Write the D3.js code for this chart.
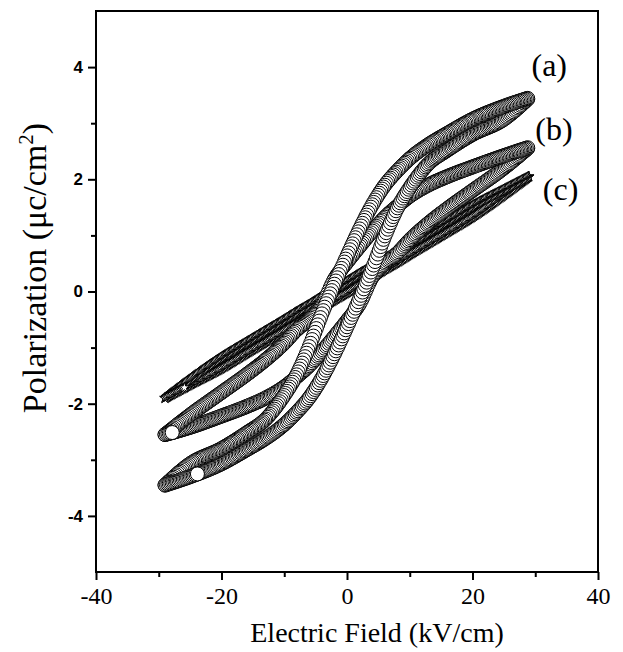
<!DOCTYPE html>
<html>
<head>
<meta charset="utf-8">
<title>P-E loops</title>
<script src="https://d3js.org/d3.v7.min.js"></script>
<style>
  body { margin: 0; background: #fff; }
</style>
</head>
<body>
<svg width="623" height="652" id="mainsvg"></svg>
<script>
// field grid (kV/cm), shared by every branch
const field = [-29, -25, -20, -16, -13, -10, -8, -6, -4, -2, 0, 2, 4, 6, 8, 10, 13, 16, 20, 25, 29];

// polarization (uC/cm2), upper = field going down, lower = field going up
const upperA = [-3.45, -3.07, -2.8, -2.52, -2.28, -1.85, -1.48, -0.98, -0.4, 0.13, 0.63, 1.11, 1.54, 1.89, 2.15, 2.37, 2.62, 2.82, 3.07, 3.3, 3.45];
const lowerA = [-3.45, -3.3, -3.07, -2.82, -2.62, -2.37, -2.15, -1.89, -1.54, -1.11, -0.63, -0.13, 0.4, 0.98, 1.48, 1.85, 2.28, 2.52, 2.8, 3.07, 3.45];
const upperB = [-2.55, -2.2, -1.8, -1.48, -1.22, -0.92, -0.68, -0.5, -0.25, 0.22, 0.52, 0.8, 1.07, 1.32, 1.52, 1.7, 1.9, 2.05, 2.22, 2.42, 2.57];
const lowerB = [-2.55, -2.42, -2.22, -2.05, -1.9, -1.7, -1.52, -1.32, -1.07, -0.8, -0.52, -0.22, 0.25, 0.5, 0.68, 0.92, 1.22, 1.48, 1.8, 2.2, 2.57];
const upperC = [-1.9, -1.56, -1.17, -0.9, -0.7, -0.5, -0.36, -0.23, -0.09, 0.05, 0.18, 0.32, 0.45, 0.59, 0.72, 0.86, 1.06, 1.26, 1.53, 1.82, 2.05];
const lowerC = [-1.9, -1.66, -1.37, -1.1, -0.9, -0.7, -0.56, -0.43, -0.29, -0.15, -0.02, 0.12, 0.25, 0.39, 0.52, 0.66, 0.86, 1.06, 1.33, 1.72, 2.05];
// field where each record starts (its last symbol sits there on top)
const startField = { a: -24, b: -28, c: -26 };

const xMajor = [-40, -20, 0, 20, 40];
const xMinor = [-30, -10, 10, 30];
const yMajor = [-4, -2, 0, 2, 4];
const yMinor = [-3, -1, 1, 3];

const labels = ['(a)', '(b)', '(c)'];
const labelE = [29.4, 30.0, 31.2];
const labelP = [3.84, 2.70, 1.63];

const SERIF = "'Liberation Serif'";
const SANS = "'Liberation Sans'";

const svg = d3.select('#mainsvg');
const x = d3.scaleLinear().domain([-40, 40]).range([96, 598]);
const y = d3.scaleLinear().domain([-5, 5]).range([572, 11]);

const branchLine = d3.line()
    .x(d => x(d[0]))
    .y(d => y(d[1]))
    .curve(d3.curveMonotoneX);

const scratch = svg.append('g').attr('visibility', 'hidden');

// symbol positions along a branch: one symbol per field step (dx pixels),
// so they crowd where the curve is flat and spread where it is steep
function marksAlong(pols, dx) {
    const p = scratch.append('path').attr('d', branchLine(field.map((e, i) => [e, pols[i]])));
    const node = p.node();
    const len = node.getTotalLength();
    const out = [];
    let next = -Infinity;
    for (let l = 0; l <= len; l += 0.25) {
        const q = node.getPointAtLength(l);
        if (q.x >= next) {
            out.push([q.x, q.y]);
            next = (next === -Infinity ? q.x : next) + dx;
        }
    }
    p.remove();
    return out;
}

function loopMarks(upper, lower, e0, dx) {
    const low = marksAlong(lower, dx);
    const up = marksAlong(upper, dx).reverse();
    let k = low.findIndex(d => d[0] >= x(e0));
    if (k < 0) k = 0;
    return low.slice(k).concat(up, low.slice(0, k + 1));
}

const plot = svg.append('g');

// (c) stars
const starPath = d3.symbol(d3.symbolStar, 34)();
plot.append('g').selectAll('path')
    .data(loopMarks(upperC, lowerC, startField.c, 1.2))
    .join('path')
    .attr('d', starPath)
    .attr('transform', d => `translate(${d[0]},${d[1]})`)
    .attr('fill', '#fff')
    .attr('stroke', '#000')
    .attr('stroke-width', 1);

// (b) and (a) circles
[[upperB, lowerB, startField.b], [upperA, lowerA, startField.a]].forEach(s => {
    plot.append('g').selectAll('circle')
        .data(loopMarks(s[0], s[1], s[2], 1.4))
        .join('circle')
        .attr('cx', d => d[0])
        .attr('cy', d => d[1])
        .attr('r', 7)
        .attr('fill', '#fff')
        .attr('stroke', '#000')
        .attr('stroke-width', 1);
});

// frame
svg.append('rect')
    .attr('x', x.range()[0])
    .attr('y', y.range()[1])
    .attr('width', x.range()[1] - x.range()[0])
    .attr('height', y.range()[0] - y.range()[1])
    .attr('fill', 'none')
    .attr('stroke', '#000')
    .attr('stroke-width', 2);

// axes
const gx = svg.append('g').attr('transform', `translate(0,${y.range()[0]})`);
gx.call(d3.axisBottom(x).tickValues(xMajor).tickSize(8).tickPadding(7).tickFormat(d => String(d)));
gx.append('g').call(d3.axisBottom(x).tickValues(xMinor).tickSize(5).tickFormat(''));
gx.selectAll('.domain').remove();
gx.selectAll('line').attr('stroke-width', 2);
gx.selectAll('text')
    .style('font-family', SERIF)
    .style('font-size', '24px')
    .attr('fill', '#000');

const gy = svg.append('g').attr('transform', `translate(${x.range()[0]},0)`);
gy.call(d3.axisLeft(y).tickValues(yMajor).tickSize(8).tickPadding(5).tickFormat(d => String(d)));
gy.append('g').call(d3.axisLeft(y).tickValues(yMinor).tickSize(5).tickFormat(''));
gy.selectAll('.domain').remove();
gy.selectAll('line').attr('stroke-width', 2);
gy.selectAll('text')
    .style('font-family', SANS)
    .style('font-weight', 'bold')
    .style('font-size', '17px')
    .attr('fill', '#000');

// titles
svg.append('text')
    .attr('x', 377)
    .attr('y', 642)
    .attr('text-anchor', 'middle')
    .style('font-family', SERIF)
    .style('font-size', '28px')
    .text('Electric Field (kV/cm)');

const yt = svg.append('text')
    .attr('transform', 'translate(46,268) rotate(-90)')
    .attr('text-anchor', 'middle')
    .style('font-family', SERIF)
    .style('font-size', '34px');
yt.append('tspan').text('Polarization (\u03bcc/cm');
yt.append('tspan').attr('dy', -13).style('font-size', '21px').text('2');
yt.append('tspan').attr('dy', 13).text(')');

// curve labels
svg.append('g').selectAll('text')
    .data(labels)
    .join('text')
    .attr('x', (d, i) => x(labelE[i]))
    .attr('y', (d, i) => y(labelP[i]))
    .style('font-family', SERIF)
    .style('font-size', '32px')
    .text(d => d);
</script>
</body>
</html>
